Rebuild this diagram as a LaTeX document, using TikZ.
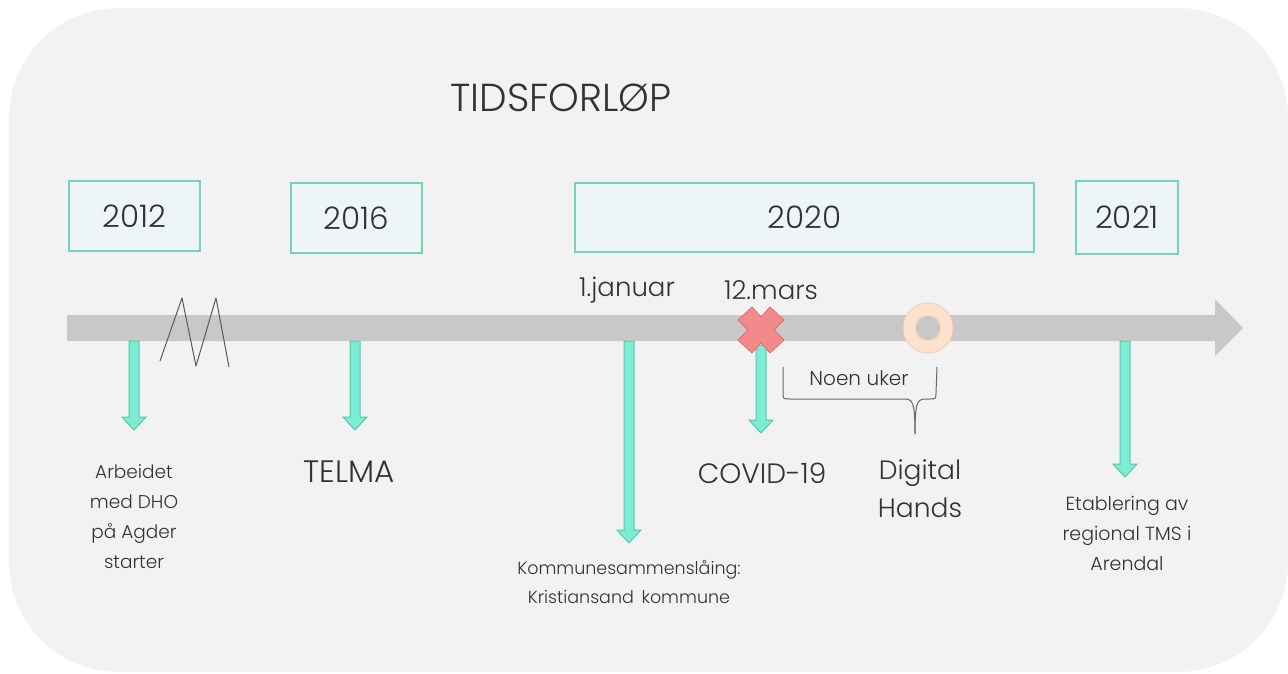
\documentclass[tikz,border=0pt]{standalone}
\usepackage{fontspec}
\setmainfont{Poppins Light}
\usetikzlibrary{calc}
\definecolor{bgpanel}{HTML}{F2F2F2}
\definecolor{boxfill}{HTML}{EDF5F6}
\definecolor{boxline}{HTML}{74D3BD}
\definecolor{barcol}{HTML}{C8C8C8}
\definecolor{arrfill}{HTML}{7EEBD3}
\definecolor{arrline}{HTML}{4FCBAC}
\definecolor{txt}{HTML}{333333}
\definecolor{xfill}{HTML}{F28A8C}
\definecolor{xline}{HTML}{E26C70}
\definecolor{ringfill}{HTML}{FCE2CF}
\definecolor{ringline}{HTML}{F6CBAA}
\tikzset{
  yearbox/.style={draw=boxline, fill=boxfill, line width=1.3pt, inner sep=0pt, text=txt, font=\fontsize{31}{36}\selectfont},
  lbl/.style={text=txt, align=center, inner sep=0pt},
  arrowpoly/.style={fill=arrfill, draw=arrline, line width=1pt, line join=miter},
}
\newcommand\tealdown[2]{%
  \draw[arrowpoly] ($(#1)+(-5,0)$) -- ($(#2)+(-5,-13)$) -- ($(#2)+(-12,-13)$) -- (#2)
     -- ($(#2)+(12,-13)$) -- ($(#2)+(5,-13)$) -- ($(#1)+(5,0)$) -- cycle;}
\begin{document}
\begin{tikzpicture}[x=1pt,y=-1pt]
\useasboundingbox (0,0) rectangle (1288,674);
\fill[white] (0,0) rectangle (1288,674);
\fill[bgpanel, rounded corners=110pt] (9,8) rectangle (1288,672);

% title
\node[lbl, font=\fontsize{39}{46}\selectfont] (title) at (561,98) {TIDSFORLØP};

% year boxes
\node[yearbox, minimum width=131pt, minimum height=70pt] (y2012) at (134.5,216) {2012};
\node[yearbox, minimum width=131pt, minimum height=70pt] (y2016) at (356.5,218) {2016};
\node[yearbox, minimum width=459pt, minimum height=69pt] (y2020) at (804.5,217.5) {2020};
\node[yearbox, minimum width=102pt, minimum height=73pt] (y2021) at (1127,217.5) {2021};

% timeline bar
\fill[barcol] (67,315) -- (1215,315) -- (1215,299) -- (1243,328) -- (1215,356) -- (1215,341) -- (67,341) -- cycle;

% zigzag break
\draw[black!65, line width=1pt, line join=round] (160,361) -- (182,298) -- (196,366) -- (216,298) -- (229,367);

% arrow anchor coordinates
\coordinate (a1s) at (134,341);  \coordinate (a1e) at (134,430);
\coordinate (a2s) at (355,341);  \coordinate (a2e) at (355,430);
\coordinate (a3s) at (629,341);  \coordinate (a3e) at (629,543);
\coordinate (a4s) at (761,345);  \coordinate (a4e) at (761,433);
\coordinate (a5s) at (1125,341); \coordinate (a5e) at (1125,477);
\tealdown{a1s}{a1e}
\tealdown{a2s}{a2e}
\tealdown{a3s}{a3e}
\tealdown{a4s}{a4e}
\tealdown{a5s}{a5e}

% red cross
\coordinate (xc) at (761,330);
\begin{scope}[shift={(xc)}]
\draw[fill=xfill, draw=xline, line width=0.8pt]
  (-9,-23) -- (0,-13) -- (9,-23) -- (23,-10) -- (13,0) -- (23,10) -- (9,23) -- (0,13) -- (-9,23) -- (-23,10) -- (-13,0) -- (-23,-10) -- cycle;
\end{scope}

% ring
\coordinate (rc) at (928,328);
\fill[ringfill, even odd rule] (rc) circle[radius=25pt] (rc) circle[radius=12.5pt];
\draw[ringline, line width=0.8pt] (rc) circle[radius=25pt] (rc) circle[radius=12.5pt];

% brace
\coordinate (bl) at (783,367);
\coordinate (br) at (937,367);
\coordinate (bt) at (915,434);
\draw[black!60, line width=1pt]
  (bl) -- (783,393) .. controls (783,399) .. (790,399) -- (905,399)
  .. controls (913,399) and (915,404) .. (bt);
\draw[black!60, line width=1pt]
  (br) -- (936,393) .. controls (936,399) .. (929,399) -- (925,399)
  .. controls (917,399) and (915,404) .. (bt);

% labels
\node[lbl, font=\fontsize{26}{30}\selectfont] (jan) at (627,290) {1.januar};
\node[lbl, font=\fontsize{26}{30}\selectfont] (mar) at (771,290) {12.mars};
\node[lbl, font=\fontsize{20}{24}\selectfont] (noen) at (859,378) {Noen uker};

\node[lbl, font=\fontsize{18.5}{30}\selectfont, anchor=north] (dho) at (134,464) {Arbeidet\\med DHO\\på Agder\\starter};
\node[lbl, font=\fontsize{31}{37}\selectfont] (telma) at (349,472) {TELMA};
\node[lbl, font=\fontsize{17.5}{29}\selectfont, anchor=north] (kom) at (629,560) {Kommunesammenslåing:\\Kristiansand\, kommune};
\node[lbl, font=\fontsize{28}{37}\selectfont] (covid) at (762,473) {COVID-19};
\node[lbl, font=\fontsize{26.5}{38}\selectfont, anchor=north] (dig) at (920,459) {Digital\\Hands};
\node[lbl, font=\fontsize{19}{30}\selectfont, anchor=north] (tms) at (1127,496) {Etablering av\\regional TMS i\\Arendal};
\end{tikzpicture}
\end{document}
